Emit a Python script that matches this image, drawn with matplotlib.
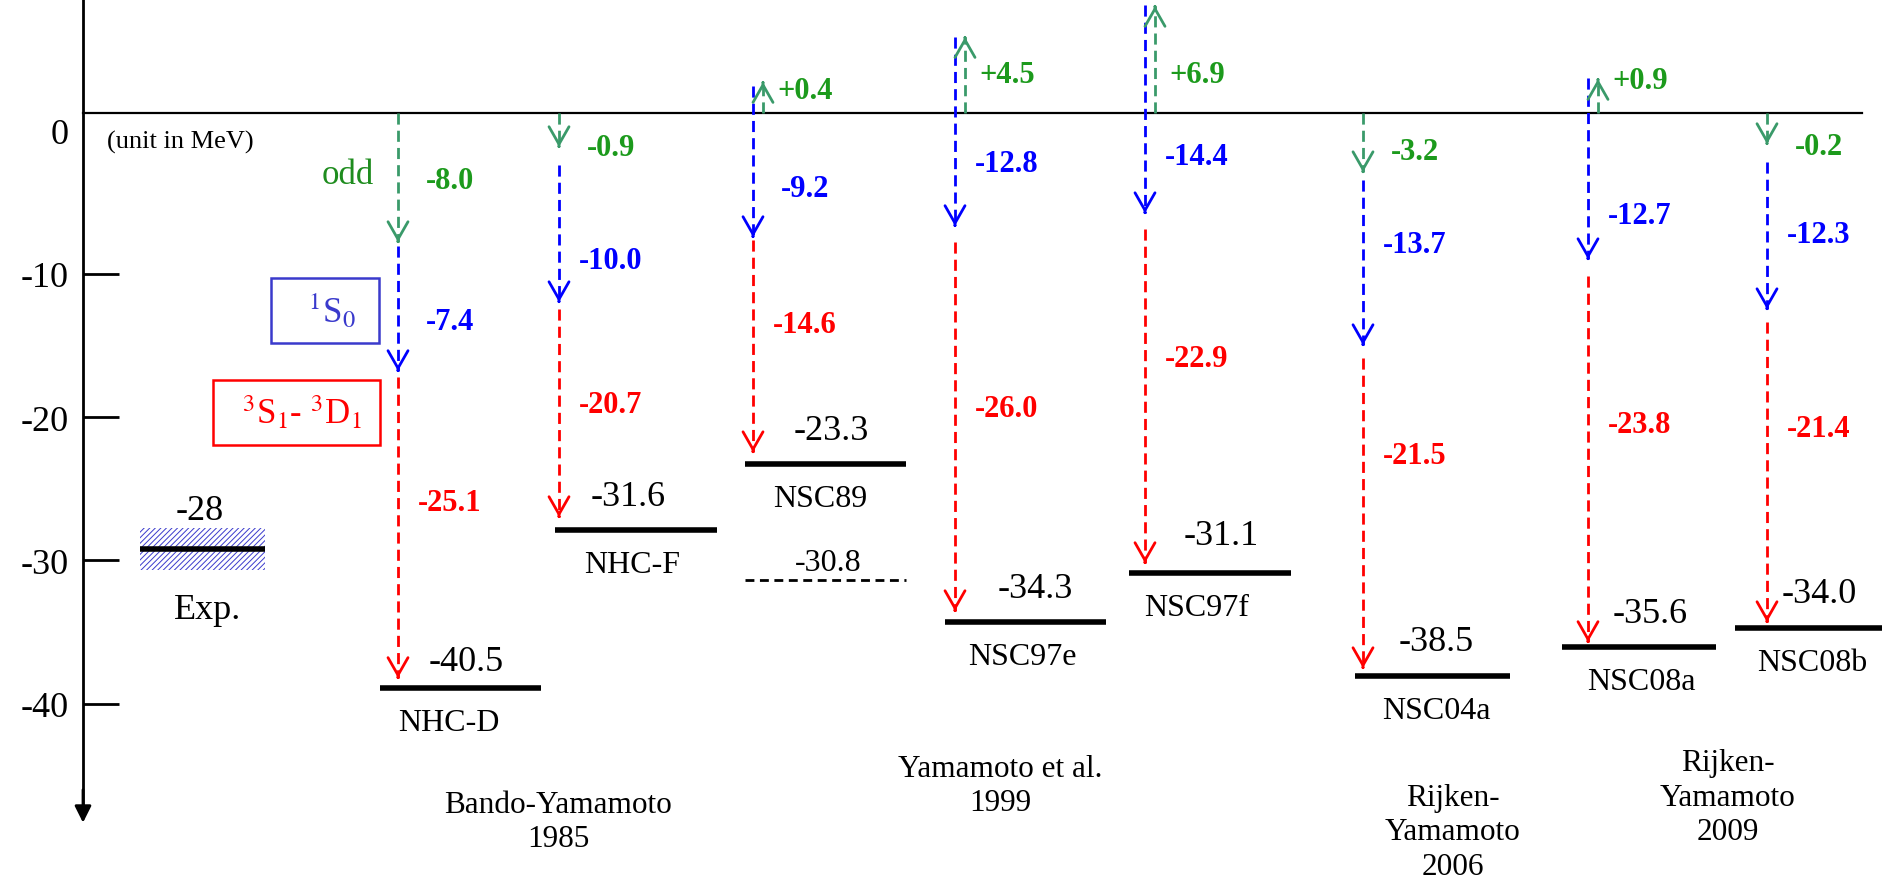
import matplotlib
matplotlib.use('Agg')
import matplotlib.pyplot as plt
from matplotlib.patches import Rectangle

plt.rcParams['font.family'] = ['Liberation Serif', 'DejaVu Serif']
plt.rcParams['mathtext.fontset'] = 'stix'
plt.rcParams['hatch.linewidth'] = 0.7

# values printed on the chart (MeV)
models = ['NHC-D', 'NHC-F', 'NSC89', 'NSC97e', 'NSC97f', 'NSC04a', 'NSC08a', 'NSC08b']
odd = [-8.0, -0.9, 0.4, 4.5, 6.9, -3.2, 0.9, -0.2]
s0 = [-7.4, -10.0, -9.2, -12.8, -14.4, -13.7, -12.7, -12.3]
s1d1 = [-25.1, -20.7, -14.6, -26.0, -22.9, -21.5, -23.8, -21.4]
total = [-40.5, -31.6, -23.3, -34.3, -31.1, -38.5, -35.6, -34.0]
exp_value = -28
nsc89_alt = -30.8
groups = ['Bando-Yamamoto\n1985', 'Yamamoto et al.\n1999',
          'Rijken-\nYamamoto\n2006', 'Rijken-\nYamamoto\n2009']

# where the schematic actually draws things (MeV on the axis)
zero_level = 1.22
odd_end = [-7.78, -1.15, 3.38, 6.52, 8.69, -2.90, 3.59, -0.94]
s0_start = [-8.06, -2.41, 3.10, 6.52, 8.76, -3.45, 3.66, -2.20]
s0_end = [-16.78, -11.97, -7.43, -6.66, -5.76, -14.97, -8.97, -12.46]
s1_start = [-17.20, -12.46, -7.64, -7.78, -6.87, -15.88, -10.15, -13.36]
s1_end = [-38.2, -26.97, -22.44, -33.53, -30.18, -37.51, -35.69, -34.30]
bar_level = [-38.9, -27.88, -23.27, -34.30, -30.88, -38.07, -36.04, -34.72]
nsc89_alt_level = -31.37
exp_level = -29.2
exp_err = 1.47

# layout (x in figure pixels)
col_x = [398, 559, 753, 955, 1145, 1363, 1588, 1767]
bar_x0 = [380, 555, 745, 945, 1129, 1355, 1562, 1735]
bar_x1 = [541, 717, 906, 1106, 1291, 1510, 1716, 1882]
level_lbl_x = [466, 628, 831, 1035, 1221, 1436, 1650, 1819]
level_lbl_dy = [19, 24, 24, 24, 27, 25, 24, 25]
name_lbl_x = [449, 632, 820, 1022, 1197, 1436, 1641, 1812]
odd_lbl_y = [-3.52, -1.15, 2.76, 3.94, 3.94, -1.43, 3.52, -1.08]
s0_lbl_y = [-13.36, -9.04, -4.01, -2.27, -1.78, -7.92, -5.90, -7.22]
s1_lbl_y = [-25.93, -19.09, -13.57, -19.43, -15.88, -22.71, -20.48, -20.76]
group_x = [558, 1000, 1453, 1728]
group_y = [-46.0, -43.5, -45.5, -43.1]

GREEN_ARROW = '#3a9a6a'
GREEN_TEXT = '#1c9a1c'
BLUE = '#0000ff'
RED = '#ff0000'
BOX_BLUE = '#3a3acc'


def dashed_arrow(ax, x, y0, y1, color):
    ax.plot([x, x], [y0, y1], color=color, lw=2, ls=(0, (4, 2.2)))
    d = 0.05 if y1 < y0 else -0.05
    ax.annotate('', xy=(x, y1), xytext=(x, y1 + d),
                arrowprops=dict(arrowstyle='->,head_length=0.7,head_width=0.4',
                                color=color, lw=2, shrinkA=0, shrinkB=0,
                                mutation_scale=18))


fig = plt.figure(figsize=(18.82, 8.87), dpi=100)
ax = fig.add_axes([0, 0, 1, 1])
ax.set_xlim(0, 1882)
ax.set_ylim(-52.72, 9.18)

# vertical energy axis
for s in ['top', 'right', 'bottom']:
    ax.spines[s].set_visible(False)
ax.spines['left'].set_position(('data', 83))
ax.spines['left'].set_linewidth(2)
ax.spines['left'].set_bounds(-47.6, 9.18)
ax.set_xticks([])
ax.set_yticks([0, -10, -20, -30, -40])
ax.set_yticklabels(['0', '-10', '-20', '-30', '-40'])
ax.tick_params(axis='y', direction='in', length=26, width=2, pad=10, labelsize=26)
ax.yaxis.get_major_ticks()[0].tick1line.set_visible(False)
ax.annotate('', xy=(83, -48.3), xytext=(83, -46.0),
            arrowprops=dict(arrowstyle='-|>', color='k', lw=2, shrinkA=0, shrinkB=0,
                            mutation_scale=25))

ax.plot([83, 1862], [zero_level, zero_level], color='k', lw=1.6)
ax.text(107, -0.73, '(unit in MeV)', fontsize=19, va='center', ha='left')

# experiment
ax.add_patch(Rectangle((140, exp_level - exp_err), 125, 2 * exp_err, facecolor='white',
                       edgecolor=BOX_BLUE, hatch='//////', lw=0))
ax.plot([140, 265], [exp_level, exp_level], color='k', lw=4, solid_capstyle='butt')
ax.text(200, exp_level + 2.65, f'{exp_value}', fontsize=26, ha='center', va='center')
ax.text(208, exp_level - 4.2, 'Exp.', fontsize=26, ha='center', va='center')

# legend-like labels
ax.text(348, -3.10, 'odd', color='#1e8c1e', fontsize=25, ha='center', va='center')
ax.add_patch(Rectangle((271, -14.83), 108, 4.54, fill=False, edgecolor=BOX_BLUE, lw=1.8))
ax.text(332, -12.6, r'$^{1}$S$_{0}$', color=BOX_BLUE, fontsize=25, ha='center', va='center')
ax.add_patch(Rectangle((213, -21.95), 167, 4.54, fill=False, edgecolor=RED, lw=1.8))
ax.text(302, -19.7, r'$^{3}$S$_{1}$- $^{3}$D$_{1}$', color=RED, fontsize=25,
        ha='center', va='center')

for i, name in enumerate(models):
    x = col_x[i]
    gx = x + 10 if odd[i] > 0 else x
    dashed_arrow(ax, gx, zero_level, odd_end[i], GREEN_ARROW)
    dashed_arrow(ax, x, s0_start[i], s0_end[i], BLUE)
    dashed_arrow(ax, x, s1_start[i], s1_end[i], RED)

    lx = x + 52
    ax.text(lx, odd_lbl_y[i], f'{odd[i]:+.1f}', color=GREEN_TEXT, fontsize=22,
            fontweight='bold', ha='center', va='center')
    ax.text(lx, s0_lbl_y[i], f'{s0[i]:+.1f}', color=BLUE, fontsize=22,
            fontweight='bold', ha='center', va='center')
    ax.text(lx, s1_lbl_y[i], f'{s1d1[i]:+.1f}', color=RED, fontsize=22,
            fontweight='bold', ha='center', va='center')

    ax.plot([bar_x0[i], bar_x1[i]], [bar_level[i], bar_level[i]], color='k', lw=4,
            solid_capstyle='butt')
    ax.annotate(f'{total[i]:.1f}', xy=(level_lbl_x[i], bar_level[i]),
                xytext=(0, level_lbl_dy[i]), textcoords='offset points',
                fontsize=26, ha='center', va='center')
    ax.annotate(name, xy=(name_lbl_x[i], bar_level[i]), xytext=(0, -25),
                textcoords='offset points', fontsize=23, ha='center', va='center')

# NSC89 second value
ax.plot([bar_x0[2], bar_x1[2]], [nsc89_alt_level, nsc89_alt_level], color='k', lw=2,
        ls=(0, (3.2, 2.0)))
ax.annotate(f'{nsc89_alt:.1f}', xy=(828, nsc89_alt_level), xytext=(0, 13),
            textcoords='offset points', fontsize=23, ha='center', va='center')

for gx, gy, g in zip(group_x, group_y, groups):
    ax.text(gx, gy, g, fontsize=22.5, ha='center', va='top', linespacing=1.25)

fig.savefig('out.png', dpi=100)
